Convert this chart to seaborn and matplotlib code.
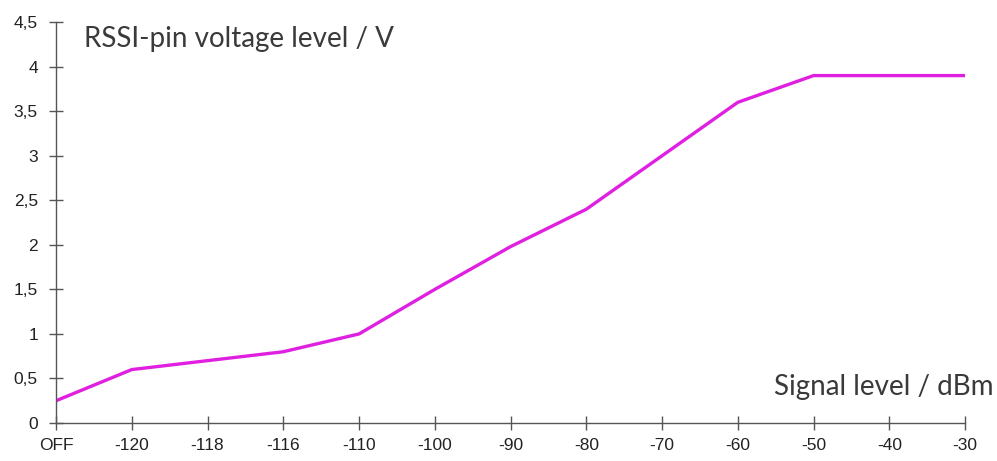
import pandas as pd
import numpy as np
import seaborn as sns
import matplotlib.pyplot as plt

signal = ["OFF", "-120", "-118", "-116", "-110", "-100", "-90", "-80", "-70", "-60", "-50", "-40", "-30"]
voltage = [0.25, 0.6, 0.7, 0.8, 1.0, 1.5, 1.98, 2.4, 3.0, 3.6, 3.9, 3.9, 3.9]
yticks = [0, 0.5, 1, 1.5, 2, 2.5, 3, 3.5, 4, 4.5]

df = pd.DataFrame({"signal": signal, "voltage": voltage})

sns.set_style("white")
plt.rcParams['font.family'] = ['Liberation Sans', 'DejaVu Sans']

fig = plt.figure(figsize=(9.97, 4.61), dpi=100)
ax = fig.add_axes([0.0562, 0.0824, 0.9118, 0.8696])

sns.lineplot(data=df, x="signal", y="voltage", sort=False, color="#e020e0", linewidth=2.4, ax=ax)

ax.set_xlim(0, len(signal) - 1)
ax.set_ylim(0, 4.5)
ax.set_yticks(yticks)
ax.set_yticklabels([str(v).replace(".", ",") if v % 1 else str(int(v)) for v in yticks])
ax.set_xlabel("")
ax.set_ylabel("")

sns.despine(ax=ax)
for s in ["left", "bottom"]:
    ax.spines[s].set_color("#555555")
    ax.spines[s].set_linewidth(1.0)
ax.tick_params(direction="inout", length=10, width=1, color="#555555", labelsize=12.5,
               labelcolor="#222222", left=True, bottom=True)
ax.tick_params(axis="x", pad=6)
ax.tick_params(axis="y", pad=8)

ax.text(0.031, 0.957, "RSSI-pin voltage level / V", transform=ax.transAxes, fontsize=20,
        family=["Lato", "DejaVu Sans"], color="#3a3a3a", va="center", ha="left")
ax.text(1.031, 0.09, "Signal level / dBm", transform=ax.transAxes, fontsize=20,
        family=["Lato", "DejaVu Sans"], color="#3a3a3a", va="center", ha="right")

fig.savefig("out.png", dpi=100)
